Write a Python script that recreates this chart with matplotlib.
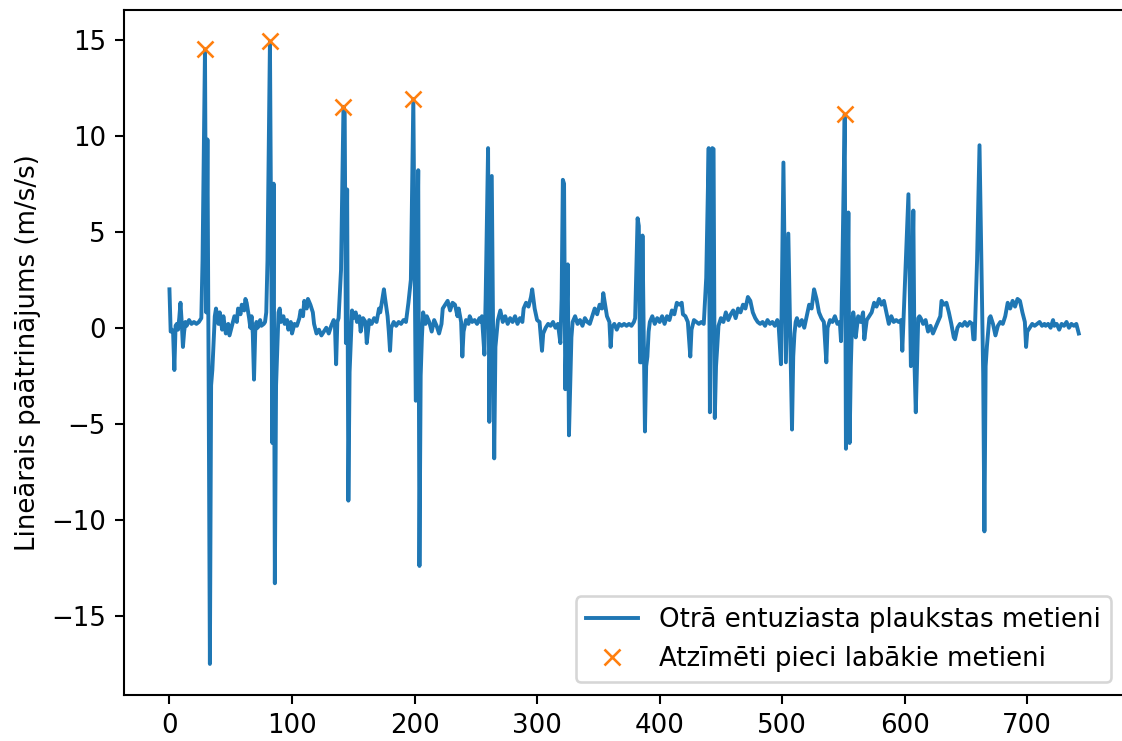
import matplotlib.pyplot as plt
import numpy as np

# sample index and linear acceleration (m/s/s)
sample_idx = [
    0, 1, 2, 3, 4, 5, 6, 7, 8, 9, 10, 11, 12, 13, 14, 16, 18, 20, 22, 24, 26,
    27, 29, 30, 31, 32, 33, 34, 35, 37,
    38, 40, 41, 43, 44, 46, 48, 49, 51, 53, 55, 56, 58, 59, 61, 62, 63, 65, 66, 67, 68, 69, 70, 71, 72, 74, 75, 77, 78,
    79, 80, 82, 84, 85, 86, 87, 89,
    90, 91, 93, 94, 96, 97, 99, 100, 102, 104, 106, 107, 109, 110, 112, 113, 115, 117, 118, 120, 122, 124, 126, 128, 130, 132, 134, 135, 136, 137,
    138, 140, 142, 143, 144, 145, 146, 147, 149,
    150, 152, 153, 155, 156, 158, 160, 161, 163, 165, 167, 169, 171, 172, 174, 175, 176, 178, 179, 180, 181, 183, 185, 187, 189, 191, 193, 195, 197,
    199, 201, 203, 204, 205, 206, 207,
    209, 210, 212, 214, 216, 218, 220, 222, 223, 225, 227, 229, 231, 233, 235, 236, 238, 239, 240, 242, 244, 245, 247, 249, 251, 253, 254, 255,
    257, 258, 260, 261, 263, 265, 266, 267, 268,
    270, 272, 274, 276, 278, 280, 282, 284, 286, 288, 289, 291, 293, 295, 296, 298, 300, 302, 304, 305, 307, 309, 311, 313, 315, 317,
    319, 320, 321, 322, 323, 325, 326, 327, 328, 329,
    331, 333, 335, 337, 339, 341, 343, 345, 347, 349, 351, 353, 354, 355, 357, 359, 360, 361, 363, 365, 367, 369, 371, 373, 375, 377, 379,
    380, 382, 383, 384, 385, 386, 388, 389, 390, 391, 392,
    394, 396, 398, 400, 402, 404, 406, 408, 410, 412, 414, 416, 418, 419, 421, 423, 425, 426, 428, 430, 432, 434, 436,
    438, 440, 441, 443, 444, 445, 446, 447, 448,
    450, 452, 454, 456, 458, 460, 462, 464, 466, 468, 470, 472, 474, 476, 478, 480, 482, 484, 486, 488, 490, 492, 494, 496, 497,
    499, 501, 503, 505, 508, 509, 510, 511,
    512, 514, 516, 518, 520, 522, 524, 526, 528, 530, 532, 534, 536, 537, 539, 541, 543, 545, 547, 548,
    549, 551, 552, 554, 555, 556, 557, 558,
    559, 560, 562, 564, 566, 567, 569, 571, 573, 575, 577, 579, 581, 583, 585, 587, 589, 591, 593, 595, 597, 598,
    603, 605, 607, 608, 609, 610, 611, 612,
    613, 615, 617, 619, 621, 623, 625, 627, 629, 630, 632, 634, 636, 638, 640, 641, 643, 645, 647, 649, 651, 653, 655, 656,
    657, 659, 661, 664, 665, 666, 667, 669,
    670, 672, 674, 676, 678, 680, 682, 684, 686, 688, 690, 692, 694, 696, 698, 699, 700, 702, 704, 706, 708, 710, 712, 714,
    715, 717, 719, 721, 722, 724, 726, 728, 730, 732, 734, 736, 738, 740, 742,
]
accel = [
    2.0, -0.2, -0.1, -0.3, -2.2, 0.1, 0.2, -0.1, 0.5, 1.3, 0.3, -1.0, -0.2, 0.3, 0.1, 0.4, 0.2, 0.3, 0.2, 0.3, 0.5,
    3.5, 14.5, 0.8, 9.8, -2.9, -17.5, -3.0, -2.2, 0.6,
    1.0, 0.2, 0.8, -0.1, 0.6, -0.3, 0.2, -0.4, 0.1, 0.6, 0.3, 1.0, 0.7, 1.2, 0.9, 1.5, 1.3, 0.5, 0.0, 0.6, -0.3, -2.7, -0.2, 0.3, 0.0, 0.4, 0.1, 0.2, 0.3,
    0.8, 3.5, 14.9, -6.0, 7.5, -13.3, -3.0, 0.8,
    1.0, 0.3, 0.6, 0.2, 0.4, -0.1, 0.3, -0.3, 0.2, 0.1, 0.5, 0.9, 0.6, 1.4, 1.0, 1.5, 1.2, 0.8, 0.2, -0.3, -0.1, -0.4, -0.2, 0.0, -0.3, 0.1, 0.4, 0.2, -1.9, 0.3,
    0.5, 3.0, 11.5, 11.2, -0.8, 7.2, -9.0, -2.3, 0.9,
    0.5, 0.8, 0.3, 0.6, -0.2, 0.5, 0.3, -0.8, 0.4, 0.2, 0.5, 0.3, 1.0, 0.8, 1.6, 2.0, 1.5, 0.6, -0.2, -1.2, 0.0, 0.3, 0.1, 0.3, 0.2, 0.4, 0.3, 1.3, 2.5,
    11.9, -3.8, 8.2, -12.4, -2.5, -0.5, 0.8,
    0.2, 0.6, 0.3, -0.2, 0.4, 0.1, -0.3, 0.2, 1.0, 1.2, 1.4, 0.9, 1.3, 1.2, 0.6, 1.0, 0.3, -1.5, -0.2, 0.4, 0.2, 0.6, 0.3, 0.4, 0.2, 0.5, 0.3, 0.6,
    -1.4, 1.5, 9.35, -4.9, 7.9, -6.8, -1.0, -0.3, 0.4,
    0.9, 0.3, 0.6, 0.2, 0.5, 0.3, 0.6, 0.2, 0.5, 0.3, 1.0, 1.3, 1.1, 1.6, 2.0, 1.0, 0.4, 0.3, -1.2, -0.3, 0.0, 0.2, 0.1, 0.3, 0.0, 0.2,
    -0.8, 1.5, 7.7, 7.5, -3.2, 3.3, -5.6, -3.0, -0.5, 0.3,
    0.6, 0.2, 0.4, 0.1, 0.5, 0.3, 0.2, 0.6, 1.0, 0.7, 1.2, 1.0, 1.8, 1.4, 0.6, 0.3, -1.0, 0.0, 0.2, -0.1, 0.2, 0.1, 0.2, 0.1, 0.2, 0.1, 0.3,
    0.5, 5.7, 5.3, -1.8, -1.8, 4.8, -5.4, -2.0, -1.5, -0.2, 0.3,
    0.6, 0.2, 0.5, 0.3, 0.6, 0.2, 0.6, 0.4, 0.9, 0.7, 1.3, 1.2, 1.3, 0.7, 0.6, 0.3, -1.5, -0.1, 0.4, 0.3, 0.2, 0.3, 0.2,
    2.6, 9.35, -4.4, 9.35, 9.3, -4.7, -2.0, -1.0, 0.1,
    0.5, 0.3, 0.8, 0.4, 0.7, 0.9, 0.5, 1.0, 0.8, 1.2, 1.0, 1.6, 1.4, 0.8, 0.5, 0.3, 0.2, 0.3, 0.1, 0.4, 0.2, 0.3, 0.1, 0.4, 0.2,
    -1.9, 8.6, -1.8, 4.9, -5.3, -1.5, -0.3, 0.3,
    0.5, 0.1, 0.4, 0.0, 0.6, 1.2, 1.0, 2.0, 1.5, 0.8, 0.5, 0.3, -1.8, 0.0, 0.4, 0.3, 0.6, 0.2, 0.3, -0.7,
    2.7, 11.1, -6.3, 6.0, -6.0, -2.0, 0.3, 0.8,
    0.3, -0.5, 0.6, 0.3, 0.8, -0.6, 0.4, 0.6, 0.8, 1.3, 1.1, 1.5, 1.2, 1.4, 0.8, 0.2, 0.6, 0.3, 0.4, 0.3, 0.4, -1.2,
    6.95, -2.0, 6.1, -2.0, -4.4, -2.0, 0.5, 0.6,
    0.5, 0.2, 0.4, -0.2, 0.1, -0.3, 0.0, 0.3, 0.6, 1.4, 1.2, 1.3, 0.8, 0.2, -0.5, -0.6, 0.0, 0.2, 0.1, 0.3, 0.1, 0.3, 0.2, -0.6,
    -0.6, 3.5, 9.5, -2.4, -10.6, -2.0, -1.0, 0.5,
    0.6, 0.2, -0.4, 0.1, 0.3, 0.2, 0.6, 1.3, 1.0, 1.4, 1.1, 1.5, 1.4, 0.8, 0.3, -1.0, -0.2, 0.0, 0.2, 0.1, 0.2, 0.3, 0.1, 0.2,
    0.1, 0.2, 0.0, 0.4, 0.1, 0.2, -0.1, 0.2, 0.1, 0.3, 0.0, 0.2, 0.1, 0.2, -0.3,
]

# five best throws (peaks)
best_idx = [29, 82, 142, 199, 551]

x = np.array(sample_idx)
y = np.array(accel)
best_y = [y[sample_idx.index(i)] for i in best_idx]

dpi = 187
fig = plt.figure(figsize=(1122 / dpi, 741 / dpi), dpi=dpi)
# right spine sits just past the image edge, like the cropped reference
ax = fig.add_axes([0.1105, 0.062, 0.8915, 0.924])

ax.plot(x, y, label='Otrā entuziasta plaukstas metieni')
ax.plot(best_idx, best_y, 'x', label='Atzīmēti pieci labākie metieni')
ax.set_ylabel('Lineārais paātrinājums (m/s/s)')
ax.legend(loc='lower right')

plt.savefig('out.png', dpi=dpi)
